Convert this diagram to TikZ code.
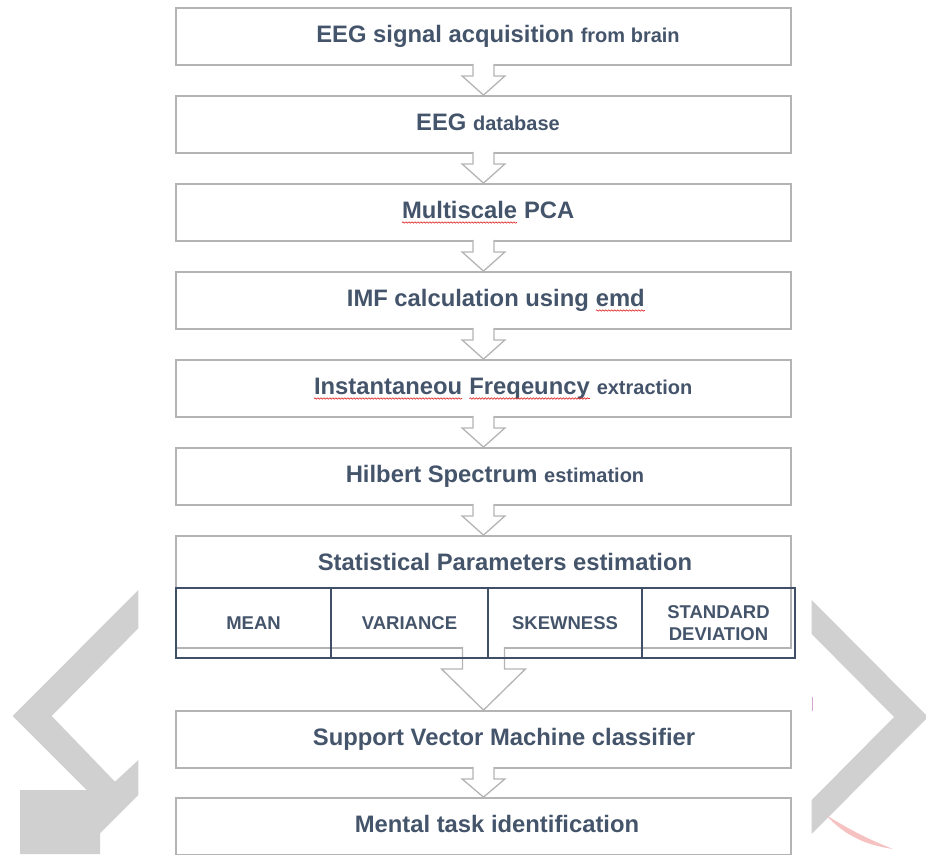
\documentclass[tikz,border=0pt]{standalone}
\usepackage{fontspec}
\setmainfont{Liberation Sans}
\usetikzlibrary{decorations.pathmorphing}

\definecolor{txtblue}{HTML}{44546A}
\definecolor{boxgray}{HTML}{B4B4B4}
\definecolor{tabline}{HTML}{3F4F68}
\definecolor{markgray}{HTML}{D0D0D0}
\definecolor{spellred}{HTML}{E03030}

\newcommand{\spellwave}[1]{\tikz[baseline=(sw.base)]{\node[inner sep=0pt,outer sep=0pt] (sw) {#1};
  \draw[spellred,line width=0.7pt,decorate,decoration={snake,amplitude=0.7pt,segment length=3pt}]
    ([yshift=-4pt]sw.base west) -- ([yshift=-4pt]sw.base east);}}
\newcommand{\sm}[1]{{\fontsize{20}{24}\selectfont #1}}

% block arrow from one box to the next: from, to, shaft half width, head half width, shaft length
\newcommand{\stagearrow}[5]{%
  \draw[arrowline]
    ([xshift=-#3pt,yshift=2pt]#1.south) -- ([xshift=-#3pt,yshift=-#5pt]#1.south)
    -- ([xshift=-#4pt,yshift=-#5pt]#1.south) -- (#2.north)
    -- ([xshift=#4pt,yshift=-#5pt]#1.south) -- ([xshift=#3pt,yshift=-#5pt]#1.south)
    -- ([xshift=#3pt,yshift=2pt]#1.south);}

\begin{document}
\begin{tikzpicture}[x=1pt,y=-1pt,
    stage/.style={draw=boxgray,line width=1.8pt,minimum width=615pt,minimum height=57pt,inner sep=0pt},
    txt/.style={text=txtblue,font=\fontsize{23.8}{28}\selectfont\bfseries,anchor=base,inner sep=0pt},
    cell/.style={draw=tabline,line width=1.5pt,minimum height=70pt,inner sep=0pt,
      text=txtblue,font=\fontsize{18.5}{22}\selectfont\bfseries,align=center},
    arrowline/.style={draw=boxgray,line width=1.3pt,fill=white,line join=miter}]
  \useasboundingbox (0,0) rectangle (926,854);
  \clip (0,0) rectangle (926,854);

  % background chevrons
  \fill[markgray] (138.3,590) -- (12.7,716) -- (86.7,790) -- (20,790) -- (20,854) -- (100,854)
    -- (100,833.3) -- (138.3,795) -- (138.3,760) -- (115,781.7) -- (51.7,716) -- (138.3,628.3) -- cycle;
  \fill[markgray] (811.7,600) -- (928,717) -- (811.7,834) -- (811.7,800) -- (894,717) -- (811.7,634) -- cycle;
  \fill[spellred!30] (826,815) .. controls (850,830) and (870,840) .. (893,849)
    .. controls (866,845) and (845,836) .. (826,815);
  \draw[violet!35,line width=1.5pt] (812.5,697) -- (812.5,711);

  % process boxes
  \node[stage] (acq) at (483.5,36.5) {};
  \node[stage] (db) at (483.5,124.5) {};
  \node[stage] (mspca) at (483.5,212.5) {};
  \node[stage] (imf) at (483.5,300.5) {};
  \node[stage] (freq) at (483.5,388.5) {};
  \node[stage] (hilb) at (483.5,476.5) {};
  \node[stage,minimum height=112pt] (stat) at (483.5,592) {};
  \node[stage] (svm) at (483.5,739.5) {};
  \node[stage] (task) at (483.5,826.5) {};

  \node[txt] at ([xshift=14.5pt,yshift=-6pt]acq.center) {EEG signal acquisition \sm{from brain}};
  \node[txt] at ([xshift=4.5pt,yshift=-6pt]db.center) {EEG \sm{database}};
  \node[txt] at ([xshift=4.5pt,yshift=-6pt]mspca.center) {\spellwave{Multiscale} PCA};
  \node[txt] at ([xshift=12.5pt,yshift=-6pt]imf.center) {IMF calculation using \spellwave{emd}};
  \node[txt] at ([xshift=19.5pt,yshift=-6pt]freq.center)
    {\spellwave{Instantaneou} \spellwave{Freqeuncy} \sm{extraction}};
  \node[txt] at ([xshift=11.5pt,yshift=-6pt]hilb.center) {Hilbert Spectrum \sm{estimation}};
  \node[txt] at ([xshift=21.5pt,yshift=21.5pt]stat.center) {Statistical Parameters estimation};
  \node[txt] at ([xshift=20.5pt,yshift=-6pt]svm.center) {Support Vector Machine classifier};
  \node[txt] at ([xshift=13.5pt,yshift=-6pt]task.center) {Mental task identification};

  % arrows
  \stagearrow{acq}{db}{10.5}{21.5}{10}
  \stagearrow{db}{mspca}{10.5}{21.5}{10}
  \stagearrow{mspca}{imf}{10.5}{21.5}{10}
  \stagearrow{imf}{freq}{10.5}{21.5}{10}
  \stagearrow{freq}{hilb}{10.5}{21.5}{10}
  \stagearrow{hilb}{stat}{10.5}{21.5}{10}
  \stagearrow{stat}{svm}{21}{42}{20}
  \stagearrow{svm}{task}{10.5}{21.5}{10}

  % parameter table
  \node[cell,minimum width=155pt] (mean) at (253.5,623) {MEAN};
  \node[cell,minimum width=157pt] (var) at (409.5,623) {VARIANCE};
  \node[cell,minimum width=154pt] (skew) at (565,623) {SKEWNESS};
  \node[cell,minimum width=153pt] (std) at (718.5,623) {STANDARD\\DEVIATION};
\end{tikzpicture}
\end{document}
